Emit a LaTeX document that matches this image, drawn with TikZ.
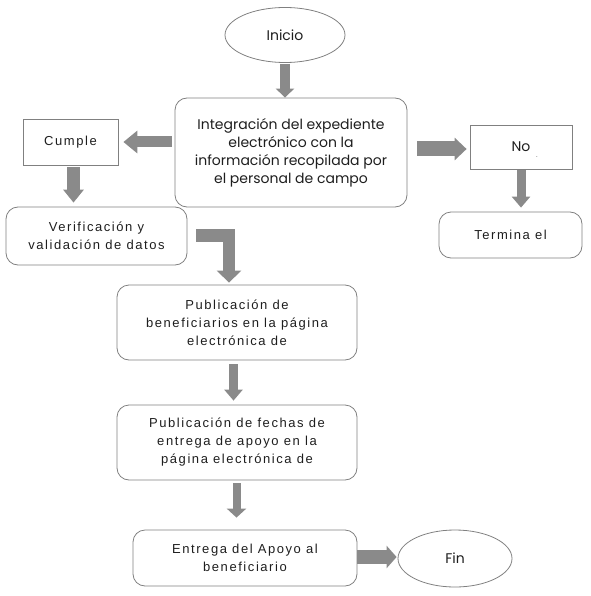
\documentclass[tikz,border=0pt]{standalone}
\usepackage{fontspec}
\setmainfont{Liberation Sans}
\newfontfamily\geofont{Poppins}
\newfontfamily\trackfont[LetterSpace=12]{Liberation Sans}
\usetikzlibrary{shapes.geometric,arrows.meta}
\definecolor{boxedge}{HTML}{808080}
\definecolor{arrowfill}{HTML}{8A8A8A}
\definecolor{txt}{HTML}{1E1E1E}
\begin{document}
\begin{tikzpicture}[x=1pt,y=-1pt,
  base/.style={draw=boxedge, line width=0.8pt, text=txt, inner sep=0pt, align=center},
  oval/.style={base, ellipse, font=\geofont\fontsize{14}{18}\selectfont},
  roundbox/.style={base, rectangle, rounded corners=12pt},
  sqbox/.style={base, rectangle},
  geotext/.style={font=\geofont\fontsize{14}{18}\selectfont},
  tracktext/.style={font=\trackfont\fontsize{13}{18}\selectfont},
  flow/.style n args={3}{draw=arrowfill, line width=#1, line join=miter, -{Triangle[width=#2,length=#3]}}
]
\useasboundingbox (0,0) rectangle (590,596);

\node[oval, minimum width=120pt, minimum height=55pt] (inicio) at (285,35) {Inicio};
\node[roundbox, geotext, minimum width=232pt, minimum height=109pt] (integ) at (291,152.5)
  {Integración del expediente\\electrónico con la\\información recopilada por\\el personal de campo};
\node[sqbox, tracktext, minimum width=95pt, minimum height=46pt] (cumple) at (70.5,142) {Cumple};
\node[sqbox, geotext, minimum width=102pt, minimum height=44pt] (no) at (521,147) {No};
\node[text=txt, inner sep=0pt, font=\fontsize{6}{6}\selectfont] (dot) at (537,157) {.};
\node[roundbox, tracktext, minimum width=181pt, minimum height=58pt] (verif) at (96.5,236)
  {Verificación y\\validación de datos};
\node[roundbox, tracktext, minimum width=143pt, minimum height=46pt] (termina) at (510.5,235) {Termina el};
\node[roundbox, tracktext, minimum width=240pt, minimum height=75pt] (pub1) at (237,322.5)
  {Publicación de\\beneficiarios en la página\\electrónica de};
\node[roundbox, tracktext, minimum width=240pt, minimum height=75pt] (pub2) at (237,442.5)
  {Publicación de fechas de\\entrega de apoyo en la\\página electrónica de};
\node[roundbox, tracktext, minimum width=224pt, minimum height=56pt] (entrega) at (245,558)
  {Entrega del Apoyo al\\beneficiario};
\node[oval, minimum width=114pt, minimum height=57pt] (fin) at (455,558.5) {Fin};

\draw[flow={10pt}{18pt}{9pt}, shorten <=1pt] (inicio.south) -- (inicio.south |- integ.north);
\draw[flow={11pt}{22pt}{14pt}, shorten <=3pt, shorten >=5pt] (integ.west |- cumple.east) -- (cumple.east);
\draw[flow={15pt}{22pt}{12pt}, shorten <=10pt, shorten >=3pt] ([yshift=-2pt]integ.east |- no.west) -- ([yshift=-2pt]no.west);
\draw[flow={13pt}{20pt}{13pt}, shorten <=2pt, shorten >=4pt] ([xshift=3pt]cumple.south) -- ([xshift=3pt]cumple.south |- verif.north);
\draw[flow={9pt}{18pt}{11pt}, shorten <=1pt, shorten >=4pt] (no.south) -- (no.south |- termina.north);
\draw[flow={12.5pt}{24pt}{12pt}, shorten <=9pt, shorten >=2pt] ([yshift=0.5pt]verif.east) -| ([xshift=-8pt]pub1.north);
\draw[flow={9pt}{18pt}{11pt}, shorten <=4pt, shorten >=4pt] ([xshift=-3.5pt]pub1.south) -- ([xshift=-3.5pt]pub2.north);
\draw[flow={8pt}{19pt}{9pt}, shorten <=3pt, shorten >=12pt] ([xshift=-0.5pt]pub2.south) -- ([xshift=-0.5pt]pub2.south |- entrega.north);
\draw[flow={14pt}{22pt}{10pt}, shorten >=1pt] ([yshift=1pt]entrega.east) -- ([yshift=1pt]entrega.east -| fin.west);
\end{tikzpicture}
\end{document}
